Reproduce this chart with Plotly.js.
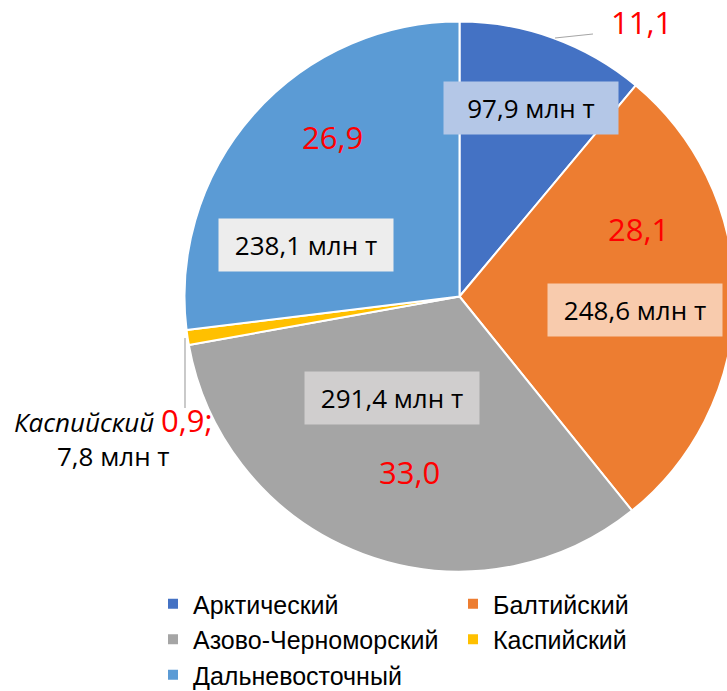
<!DOCTYPE html>
<html>
<head>
<meta charset="utf-8">
<script src="https://cdn.plot.ly/plotly-3.0.1.min.js"></script>
<style>
html, body { margin:0; padding:0; overflow:hidden; background:#fff; }
#chart { width:800px; height:740px; }
</style>
</head>
<body>
<div id="chart"></div>
<script>
// ---- data ----
const categories = ['Арктический', 'Балтийский', 'Азово-Черноморский', 'Каспийский', 'Дальневосточный'];
const volumes = [97.9, 248.6, 291.4, 7.8, 238.1];          // млн т
const shares = ['11,1', '28,1', '33,0', '0,9', '26,9'];     // %
const colors = ['#4472C4', '#ED7D31', '#A5A5A5', '#FFC000', '#5B9BD5'];
const boxColors = ['#B4C7E7', '#F8CBAD', '#D0CECE', null, '#EDEDED'];

// ---- layout geometry (pixels; canvas larger than the 727x691 window, which crops it) ----
const W = 800, H = 740;
const cx = 459.5, cy = 296.5, R = 275;
const sharePos = [[641, 22], [638, 229], [409, 472], null, [332, 137]];
const boxPos = [[531, 108], [635, 310], [392, 398], null, [306, 245]];
const caspPos = [114, 436];

const px = x => x / W;
const py = y => 1 - y / H;
const fmt = v => v.toFixed(1).replace('.', ',');

const labelFont = 'Open Sans, sans-serif';
const annotations = [];
categories.forEach((c, i) => {
  if (i === 3) return;
  annotations.push({
    xref: 'paper', yref: 'paper', x: px(sharePos[i][0]), y: py(sharePos[i][1]),
    xanchor: 'center', yanchor: 'middle', showarrow: false,
    text: shares[i], font: {family: labelFont, size: 31, color: '#FF0000'}
  });
  annotations.push({
    xref: 'paper', yref: 'paper', x: px(boxPos[i][0]), y: py(boxPos[i][1]),
    xanchor: 'center', yanchor: 'middle', showarrow: false,
    text: fmt(volumes[i]) + ' млн т', font: {family: labelFont, size: 26, color: '#000'},
    bgcolor: boxColors[i], width: 174, height: 52, borderpad: 0
  });
});
annotations.push({
  xref: 'paper', yref: 'paper', x: px(caspPos[0]), y: py(caspPos[1]),
  xanchor: 'center', yanchor: 'middle', showarrow: false, align: 'center',
  text: '<i>' + categories[3] + '</i> <span style="color:#FF0000;font-size:31px">' + shares[3] + ';</span><br>' + fmt(volumes[3]) + ' млн т',
  font: {family: labelFont, size: 26, color: '#000'}
});

const shapes = [
  {type: 'line', xref: 'paper', yref: 'paper', x0: px(555), y0: py(38), x1: px(593), y1: py(34), line: {color: '#A6A6A6', width: 1.2}},
  {type: 'line', xref: 'paper', yref: 'paper', x0: px(185), y0: py(338), x1: px(185), y1: py(408), line: {color: '#A6A6A6', width: 1.2}}
];

const trace = {
  type: 'pie',
  labels: categories,
  values: volumes,
  marker: {colors: colors, line: {color: '#FFFFFF', width: 2}},
  sort: false,
  direction: 'clockwise',
  rotation: 0,
  textinfo: 'none',
  hoverinfo: 'label+value+percent',
  domain: {x: [px(cx - R), px(cx + R)], y: [py(cy + R), py(cy - R)]}
};

const layout = {
  width: W, height: H,
  margin: {l: 0, r: 0, t: 0, b: 0},
  paper_bgcolor: '#FFFFFF',
  showlegend: true,
  legend: {
    orientation: 'h', x: px(153), y: py(581), xanchor: 'left', yanchor: 'top',
    entrywidth: 255, entrywidthmode: 'pixels',
    font: {family: 'Liberation Sans, Arial, sans-serif', size: 25, color: '#000'},
    traceorder: 'normal'
  },
  annotations: annotations,
  shapes: shapes
};

Plotly.newPlot('chart', [trace], layout, {displayModeBar: false, staticPlot: true});
</script>
</body>
</html>
